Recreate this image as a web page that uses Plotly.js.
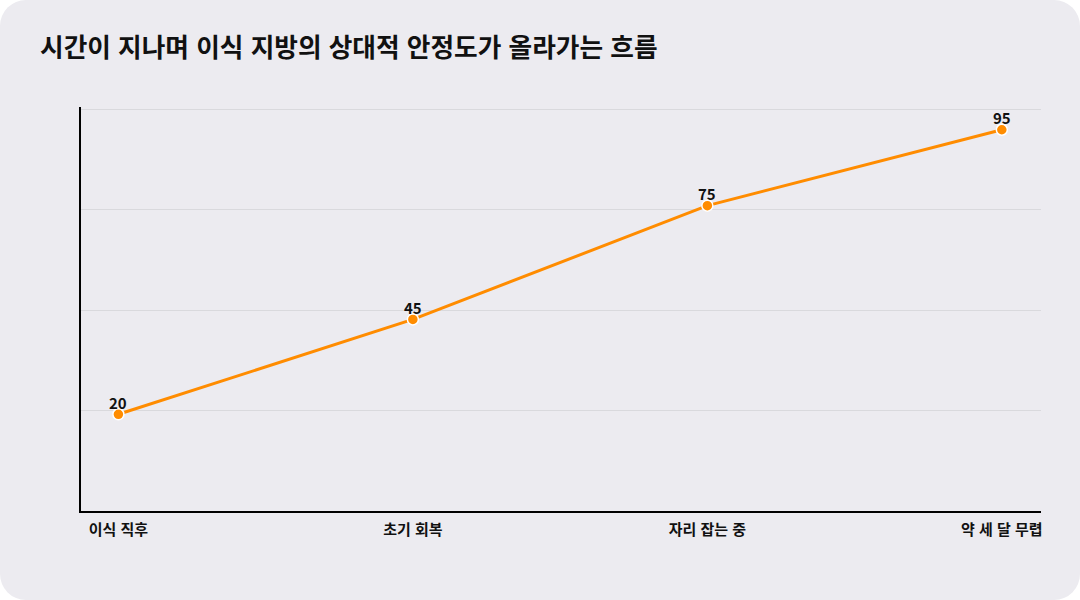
<!DOCTYPE html>
<html lang="ko">
<head>
<meta charset="utf-8">
<script src="https://cdn.plot.ly/plotly-3.0.1.min.js"></script>
<style>
  html, body { margin: 0; padding: 0; background: #ffffff; }
  #chart { width: 1080px; height: 600px; border-radius: 26px; overflow: hidden; background: #ecebf0; }
</style>
</head>
<body>
<div id="chart"></div>
<script>
/* 이식 지방 안정도 — 단계별 상대 점수 (꺾은선) */
const STAGES = ['이식 직후', '초기 회복', '자리 잡는 중', '약 세 달 무렵'];
const STABILITY = [20, 45, 75, 95];

const FONT = '"Noto Sans CJK KR", "Noto Sans", sans-serif';
const ORANGE = '#ff8c00';

// y 범위; 격자선은 -5.5~100.3 구간을 4등분 (맨 위 격자선이 가장자리에서 잘리지 않게 범위에 여유)
const Y_RANGE = [-5.5, 101];
const GRID_SPAN = [-5.5, 100.3];
const yGrid = [1, 2, 3, 4].map(k => GRID_SPAN[0] + (GRID_SPAN[1] - GRID_SPAN[0]) * k / 4);

const trace = {
  type: 'scatter', mode: 'lines+markers',
  x: STAGES, y: STABILITY,
  line: { color: ORANGE, width: 3 },
  marker: { color: ORANGE, size: 11, line: { color: '#ffffff', width: 1.5 } },
  cliponaxis: false,
  hoverinfo: 'x+y'
};

// 값 라벨: 점 바로 위
const labels = STAGES.map((s, i) => ({
  x: s, y: STABILITY[i], xref: 'x', yref: 'y',
  text: '<b>' + STABILITY[i] + '</b>', showarrow: false,
  yshift: 12, font: { family: FONT, size: 15, color: '#111111' }
}));

const layout = {
  width: 1080, height: 600,
  margin: { l: 81, r: 39, t: 107, b: 89 },
  paper_bgcolor: 'rgba(0,0,0,0)', plot_bgcolor: 'rgba(0,0,0,0)',
  font: { family: FONT, color: '#111111' },
  showlegend: false,
  title: {
    text: '<b>시간이 지나며 이식 지방의 상대적 안정도가 올라가는 흐름</b>',
    font: { family: FONT, size: 25.7, color: '#111111' },
    xref: 'container', yref: 'container',
    x: 40 / 1080, xanchor: 'left',
    y: 1 - 48 / 600, yanchor: 'middle'
  },
  xaxis: {
    type: 'category', range: [-0.127, 3.133], autorange: false,
    showgrid: false, zeroline: false,
    showline: true, linecolor: '#000000', linewidth: 2,
    ticks: '', ticklabelstandoff: 4,
    tickfont: { family: FONT, size: 15, color: '#111111', weight: 700 }
  },
  yaxis: {
    range: Y_RANGE, autorange: false,
    tickmode: 'array', tickvals: yGrid, showticklabels: false, ticks: '',
    showgrid: true, gridcolor: '#d9d9dd', gridwidth: 1,
    zeroline: false,
    showline: true, linecolor: '#000000', linewidth: 2
  },
  annotations: labels
};

Plotly.newPlot('chart', [trace], layout, { displayModeBar: false, staticPlot: true });
</script>
</body>
</html>
